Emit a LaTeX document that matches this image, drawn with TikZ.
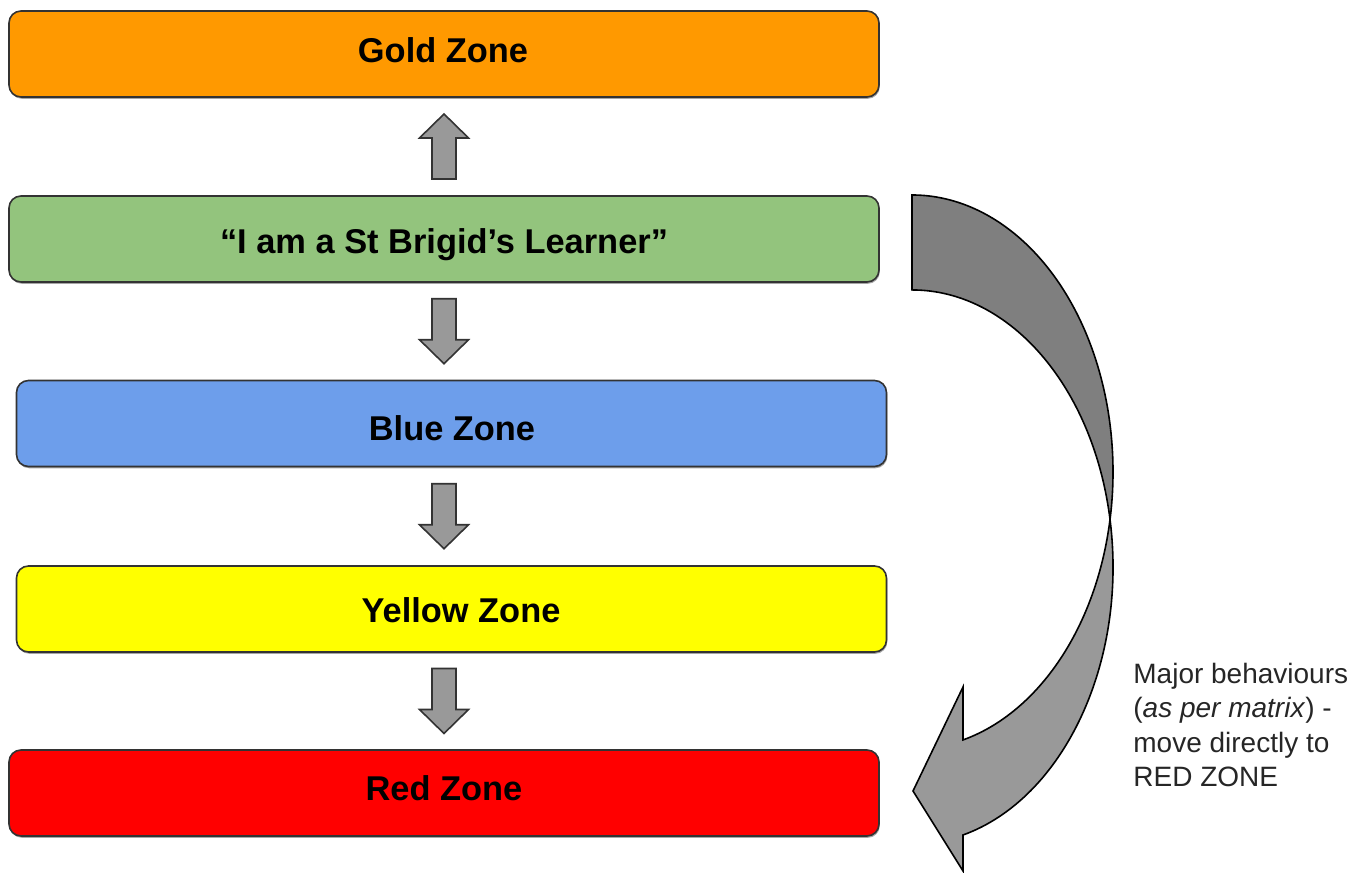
\documentclass[tikz,border=0pt]{standalone}
\usepackage{fontspec}
\setmainfont{Liberation Sans}
\usetikzlibrary{calc,shadows}
\definecolor{goldc}{HTML}{FF9900}
\definecolor{greenc}{HTML}{93C47D}
\definecolor{bluec}{HTML}{6D9EEB}
\definecolor{yellowc}{HTML}{FFFF00}
\definecolor{redc}{HTML}{FF0000}
\definecolor{arrowlight}{HTML}{999999}
\definecolor{arrowdark}{HTML}{7F7F7F}
\definecolor{edgec}{HTML}{333333}
\begin{document}
\begin{tikzpicture}[x=0.5pt,y=0.5pt,
  zonebox/.style={draw=edgec, line width=0.8pt, rounded corners=6pt,
    minimum width=435pt, minimum height=43pt, inner sep=0pt,
    drop shadow={shadow xshift=0.4pt, shadow yshift=-0.9pt, opacity=0.35, fill=black}},
  zonetext/.style={anchor=base, inner sep=0pt, font=\fontsize{17.2}{20}\selectfont\bfseries},
  blockstyle/.style={fill=arrowlight, draw=edgec, line width=0.8pt, line join=miter},
  curvestyle/.style={draw=black, line width=0.8pt, line join=miter},
  pics/blockdown/.style={code={
    \draw[blockstyle] (0,-32.5) -- (-24.5,-8.5) -- (-12,-8.5) -- (-12,32.5)
      -- (12,32.5) -- (12,-8.5) -- (24.5,-8.5) -- cycle;}}
]
\useasboundingbox (0,0) rectangle (1363,872);

% zone boxes
\node[zonebox, fill=goldc]   (gold)   at (444,818)   {};
\node[zonebox, fill=greenc]  (green)  at (444,633)   {};
\node[zonebox, fill=bluec]   (blue)   at (451.5,448.5) {};
\node[zonebox, fill=yellowc] (yellow) at (451.5,263) {};
\node[zonebox, fill=redc]    (red)    at (444,79)    {};

% zone labels
\node[zonetext] (goldt)   at (443,809) {Gold Zone};
\node[zonetext] (greent)  at (444,618) {“I am a St Brigid’s Learner”};
\node[zonetext] (bluet)   at (452,431) {Blue Zone};
\node[zonetext] (yellowt) at (461,249) {Yellow Zone};
\node[zonetext] (redt)    at (444,72)  {Red Zone};

% block arrows between zones
\coordinate (m0) at ($(green.north)!0.5!(gold.south)$);
\coordinate (m1) at ($(green.south)!0.5!(blue.north)$);
\coordinate (m2) at ($(blue.south)!0.5!(yellow.north)$);
\coordinate (m3) at ($(yellow.south)!0.5!(red.north)$);
\pic[rotate=180] at (green.north |- m0) {blockdown};
\pic at (green.south |- m1) {blockdown};
\pic at (green.south |- m2) {blockdown};
\pic at (red.north |- m3) {blockdown};

% curved arrow: back (dark) part
\draw[curvestyle, fill=arrowdark] (912,677)
  arc[start angle=90, end angle=-9.87, x radius=201, y radius=277]
  arc[start angle=9.87, end angle=90, x radius=201, y radius=277] -- cycle;
% curved arrow: front (light) part with head
\draw[curvestyle, fill=arrowlight] (1110,352.5)
  arc[start angle=-9.87, end angle=-75.3, x radius=201, y radius=277]
  -- (963,185) -- (913,81) -- (963,1) -- (963,37)
  arc[start angle=-75.3, end angle=9.87, x radius=201, y radius=277] -- cycle;

% note
\node[anchor=north west, align=left, inner sep=0pt,
  font=\fontsize{14}{17.3}\selectfont, text=black!85] (note) at (1133,209.5)
  {Major behaviours\\(\textit{as per matrix}) -\\move directly to\\RED ZONE};
\end{tikzpicture}
\end{document}
